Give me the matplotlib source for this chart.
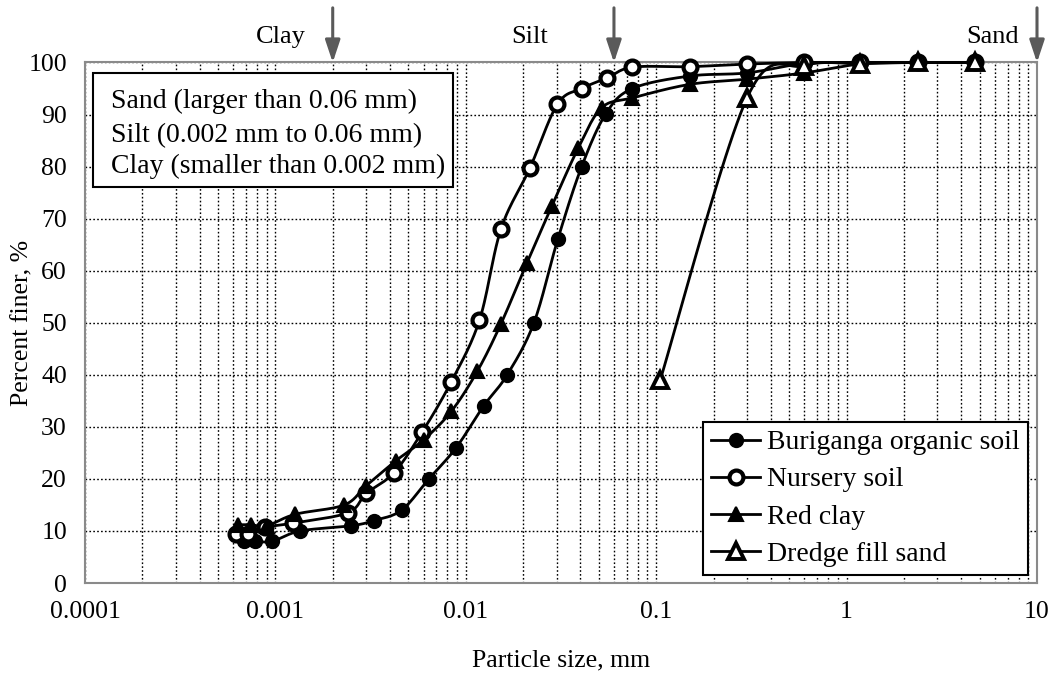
import numpy as np
import matplotlib
matplotlib.use("Agg")
import matplotlib.pyplot as plt
from matplotlib.patches import Rectangle
from matplotlib.ticker import LogLocator, FixedLocator, NullFormatter

plt.rcParams['font.family'] = ['Liberation Serif', 'DejaVu Serif']

# Grain size distributions (particle size in mm, percent finer)
buriganga_d = [0.00068, 0.00078, 0.00096, 0.00135, 0.0025, 0.0033, 0.0046, 0.0064,
               0.0089, 0.0124, 0.0165, 0.0228, 0.0304, 0.0406, 0.0545, 0.075,
               0.15, 0.30, 0.60, 1.18, 2.36, 4.75]
buriganga_p = [8, 8, 8, 10, 11, 12, 14, 20, 26, 34, 40, 50, 66, 80, 90.2, 95,
               97.4, 98.0, 99.8, 100, 100, 100]

nursery_d = [0.00062, 0.00072, 0.00088, 0.00124, 0.0024, 0.0030, 0.0042, 0.0059,
             0.0084, 0.0118, 0.0153, 0.0217, 0.0303, 0.0406, 0.055, 0.075,
             0.15, 0.30, 0.60, 1.18, 2.36, 4.75]
nursery_p = [9.5, 9.5, 10.7, 11.5, 13.5, 17.2, 21.2, 29, 38.7, 50.5, 68, 79.7,
             92, 95, 97, 99.1, 99.2, 99.7, 100, 100, 100, 100]

redclay_d = [0.00064, 0.00074, 0.0009, 0.00127, 0.0023, 0.0030, 0.0043, 0.0060,
             0.0084, 0.0115, 0.0153, 0.0209, 0.0283, 0.039, 0.0517, 0.075,
             0.15, 0.30, 0.60, 1.18, 2.36, 4.75]
redclay_p = [11.2, 11.2, 11.0, 13.2, 15.0, 18.7, 23.5, 27.5, 33, 40.7, 49.8, 61.4,
             72.4, 83.6, 91.3, 93.2, 95.8, 96.8, 98.0, 99.7, 100, 100]

dredge_d = [0.105, 0.30, 0.60, 1.18, 2.36, 4.75]
dredge_p = [39, 93.2, 99.4, 99.8, 100, 100]

series_labels = ["Buriganga organic soil", "Nursery soil", "Red clay", "Dredge fill sand"]

# Soil classification boundaries (mm)
boundary_d = [0.002, 0.06, 10]
boundary_names = ["Clay", "Silt", "Sand"]
boundary_name_x = [0.2059, 0.4674, 0.9538]  # label centres, axes fraction

class_lines = ["Sand (larger than 0.06 mm)",
               "Silt (0.002 mm to 0.06 mm)",
               "Clay (smaller than 0.002 mm)"]

x_ticks = [0.0001, 0.001, 0.01, 0.1, 1, 10]
x_ticklabels = ["0.0001", "0.001", "0.01", "0.1", "1", "10"]
y_ticks = list(range(0, 101, 10))


def smooth(d, p, n=24):
    """Cardinal (Catmull-Rom) smoothing in log-x screen space, like a spreadsheet's smoothed line."""
    u = np.log10(np.asarray(d, float)) * 190.4
    v = np.asarray(p, float) * 5.19
    P = np.column_stack([u, v])
    if len(P) < 3:
        return np.asarray(d), np.asarray(p)
    ext = np.vstack([P[0], P, P[-1]])
    out = []
    t = np.linspace(0, 1, n, endpoint=False)
    for i in range(1, len(ext) - 2):
        p0, p1, p2, p3 = ext[i - 1], ext[i], ext[i + 1], ext[i + 2]
        c1 = p1 + (p2 - p0) / 6.0
        c2 = p2 - (p3 - p1) / 6.0
        b = ((1 - t) ** 3)[:, None] * p1 + (3 * (1 - t) ** 2 * t)[:, None] * c1 \
            + (3 * (1 - t) * t ** 2)[:, None] * c2 + (t ** 3)[:, None] * p2
        out.append(b)
    out.append(P[-1][None, :])
    out = np.vstack(out)
    return 10 ** (out[:, 0] / 190.4), out[:, 1] / 5.19


fig = plt.figure(figsize=(10.51, 6.77), dpi=100)
ax = fig.add_axes([85 / 1051, 1 - 583 / 677, 952 / 1051, 520.5 / 677])

ax.set_xscale('log')
ax.set_xlim(1e-4, 10)
ax.set_ylim(0, 100)

# grid
ax.xaxis.set_major_locator(FixedLocator(x_ticks))
ax.xaxis.set_minor_locator(LogLocator(base=10, subs=np.arange(2, 10)))
ax.xaxis.set_minor_formatter(NullFormatter())
ax.set_xticklabels(x_ticklabels)
ax.set_yticks(y_ticks)
ax.grid(True, which='major', axis='both', color='black', linestyle=(0, (1.2, 1.6)), lw=1.0)
ax.grid(True, which='minor', axis='x', color='black', linestyle=(0, (1.2, 1.6)), lw=1.0)
ax.set_axisbelow(True)

ax.tick_params(axis='both', which='both', length=0, labelsize=18.5)
ax.tick_params(axis='x', pad=13)
ax.tick_params(axis='y', pad=13)

for s in ax.spines.values():
    s.set_color('#8a8a8a')
    s.set_linewidth(1.5)

styles = [
    dict(marker='o', mfc='black', mec='black', ms=9.5, mew=1.5),
    dict(marker='o', mfc='white', mec='black', ms=10, mew=3),
    dict(marker='^', mfc='black', mec='black', ms=10.5, mew=1.5),
    dict(marker='^', mfc='white', mec='black', ms=11, mew=2.8),
]
data = [(buriganga_d, buriganga_p), (nursery_d, nursery_p),
        (redclay_d, redclay_p), (dredge_d, dredge_p)]

handles = []
for (d, p), st, lab in zip(data, styles, series_labels):
    xs, ys = smooth(d, p)
    ax.plot(xs, ys, color='black', lw=2.0, zorder=3, clip_on=False)
    ax.plot(d, p, linestyle='none', zorder=4, clip_on=False, **st)
    h, = ax.plot([], [], color='black', lw=2.0, **st)
    h.set_label(lab)
    handles.append(h)

leg = ax.legend(handles=handles, loc='lower right', bbox_to_anchor=(0.9905, 0.0154),
                borderaxespad=0, fontsize=20, frameon=True, fancybox=False,
                edgecolor='black', framealpha=1, handlelength=1.75,
                handletextpad=0.25, labelspacing=0.42, borderpad=0.3)
leg.get_frame().set_linewidth(1.5)

# soil classification key, top left
ax.add_patch(Rectangle((0.0084, 0.7608), 0.3782, 0.219, transform=ax.transAxes,
                       facecolor='white', edgecolor='black', lw=1.5, zorder=6))
for line, yb in zip(class_lines, [0.912, 0.8478, 0.7871]):
    ax.text(0.0273, yb, line, transform=ax.transAxes, ha='left', va='baseline',
            fontsize=20, zorder=7)

# classification arrows above the plot
for d, name, tx in zip(boundary_d, boundary_names, boundary_name_x):
    ax.annotate('', xy=(d, 1.0), xycoords=('data', 'axes fraction'),
                xytext=(d, 1.105), textcoords=('data', 'axes fraction'),
                arrowprops=dict(arrowstyle='-|>,head_length=0.9,head_width=0.3',
                                color='#5a5a5a', lw=2.2, mutation_scale=15,
                                shrinkA=0, shrinkB=0),
                annotation_clip=False)
    ax.text(tx, 1.049, name, transform=ax.transAxes, ha='center', va='center',
            fontsize=19)

ax.set_xlabel("Particle size, mm", fontsize=18.5, labelpad=19)
ax.set_ylabel("Percent finer, %", fontsize=18.5, va='center')
ax.yaxis.set_label_coords(-0.066, 0.5)

fig.savefig("out.png", dpi=100)
